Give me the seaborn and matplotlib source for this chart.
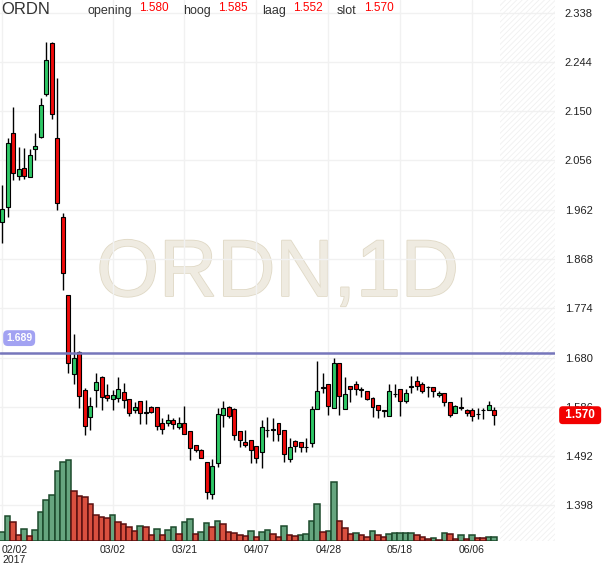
import matplotlib
matplotlib.use("Agg")
import matplotlib.pyplot as plt
import matplotlib.patheffects as pe
import numpy as np
import pandas as pd
import seaborn as sns

# daily OHLC for ORDN
opens = [1.938, 1.968, 2.108, 2.026, 2.041, 2.025, 2.077, 2.101, 2.182, 2.280,
         2.098, 1.948, 1.799, 1.648, 1.690, 1.618, 1.566, 1.618, 1.642, 1.608,
         1.600, 1.602, 1.615, 1.600, 1.579, 1.597, 1.576, 1.586, 1.585, 1.556,
         1.556, 1.560, 1.548, 1.555, 1.540, 1.513, 1.504, 1.480, 1.419, 1.478,
         1.570, 1.586, 1.581, 1.539, 1.518, 1.523, 1.511, 1.499, 1.542, 1.542,
         1.555, 1.542, 1.486, 1.521, 1.518, 1.509, 1.516, 1.581, 1.623, 1.630,
         1.583, 1.669, 1.581, 1.626, 1.630, 1.619, 1.616, 1.602, 1.589, 1.579,
         1.569, 1.610, 1.619, 1.598, 1.624, 1.635, 1.630, 1.624, 1.624, 1.609,
         1.613, 1.596, 1.574, 1.585, 1.580, 1.579, 1.573, 1.579, 1.580, 1.580]
highs = [2.009, 2.098, 2.157, 2.082, 2.079, 2.077, 2.108, 2.175, 2.281, 2.281,
         2.214, 1.955, 1.799, 1.725, 1.692, 1.621, 1.605, 1.651, 1.645, 1.629,
         1.618, 1.642, 1.631, 1.600, 1.596, 1.597, 1.599, 1.588, 1.585, 1.565,
         1.572, 1.564, 1.567, 1.588, 1.540, 1.514, 1.505, 1.480, 1.486, 1.583,
         1.598, 1.588, 1.583, 1.539, 1.541, 1.523, 1.511, 1.561, 1.566, 1.564,
         1.555, 1.542, 1.526, 1.523, 1.518, 1.527, 1.588, 1.674, 1.651, 1.630,
         1.679, 1.669, 1.642, 1.626, 1.636, 1.623, 1.616, 1.605, 1.589, 1.580,
         1.629, 1.629, 1.619, 1.619, 1.645, 1.645, 1.634, 1.625, 1.624, 1.616,
         1.613, 1.596, 1.589, 1.604, 1.582, 1.583, 1.583, 1.583, 1.597, 1.585]
lows = [1.898, 1.949, 2.019, 2.018, 2.021, 2.025, 2.057, 2.098, 2.178, 2.135,
        1.962, 1.809, 1.650, 1.630, 1.583, 1.532, 1.542, 1.585, 1.580, 1.598,
        1.579, 1.596, 1.583, 1.569, 1.574, 1.553, 1.553, 1.574, 1.542, 1.534,
        1.550, 1.543, 1.543, 1.535, 1.485, 1.500, 1.489, 1.411, 1.411, 1.472,
        1.548, 1.564, 1.523, 1.509, 1.509, 1.478, 1.478, 1.469, 1.529, 1.520,
        1.520, 1.480, 1.480, 1.499, 1.499, 1.499, 1.509, 1.581, 1.612, 1.570,
        1.583, 1.570, 1.581, 1.595, 1.609, 1.605, 1.599, 1.566, 1.564, 1.566,
        1.569, 1.605, 1.569, 1.594, 1.612, 1.618, 1.612, 1.604, 1.604, 1.604,
        1.588, 1.567, 1.574, 1.580, 1.569, 1.559, 1.562, 1.562, 1.579, 1.552]
closes = [1.963, 2.089, 2.032, 2.039, 2.027, 2.066, 2.084, 2.162, 2.248, 2.144,
          1.974, 1.841, 1.669, 1.679, 1.607, 1.549, 1.588, 1.633, 1.605, 1.602,
          1.608, 1.619, 1.599, 1.574, 1.585, 1.574, 1.574, 1.577, 1.550, 1.543,
          1.561, 1.553, 1.555, 1.535, 1.508, 1.504, 1.489, 1.424, 1.474, 1.572,
          1.583, 1.569, 1.532, 1.523, 1.514, 1.504, 1.488, 1.547, 1.541, 1.543,
          1.534, 1.496, 1.509, 1.512, 1.510, 1.510, 1.581, 1.617, 1.622, 1.588,
          1.669, 1.607, 1.610, 1.619, 1.619, 1.618, 1.600, 1.585, 1.580, 1.578,
          1.616, 1.611, 1.598, 1.613, 1.624, 1.626, 1.617, 1.623, 1.617, 1.613,
          1.595, 1.570, 1.588, 1.584, 1.575, 1.569, 1.572, 1.580, 1.589, 1.570]

# volume (thousands) and the colour the chart gives each volume bar
volumes = [26, 76, 58, 19, 37, 16, 34, 88, 124, 139,
           211, 238, 244, 151, 136, 133, 112, 79, 73, 70,
           79, 58, 52, 43, 31, 46, 43, 19, 37, 19,
           32, 43, 22, 58, 67, 22, 26, 55, 43, 61,
           52, 26, 23, 17, 14, 29, 11, 26, 32, 20,
           11, 44, 17, 14, 17, 20, 59, 110, 26, 29,
           176, 59, 38, 20, 23, 17, 11, 29, 17, 11,
           20, 23, 23, 23, 23, 17, 11, 5, 8, 2,
           23, 20, 5, 17, 5, 17, 8, 8, 11, 11]
vol_dir = list("GGRRGRGGGGGGGRRRRRRRGRRRRGRRGRGGRGGRGGRGRRRRRGRGGRRGRRGGGGRGGRRRGRRGRRGGGGGRRRGRGRRGRGRRGG")

price_ticks = [2.338, 2.244, 2.150, 2.056, 1.962, 1.868, 1.774, 1.680, 1.586, 1.492, 1.398]
date_ticks = [0, 20, 33, 46, 59, 72, 85]
date_labels = ["02/02\n2017", "03/02", "03/21", "04/07", "04/28", "05/18", "06/06"]

ref_level = 1.689
last = {"opening": 1.580, "hoog": 1.585, "laag": 1.552, "slot": 1.570}

df = pd.DataFrame({"open": opens, "high": highs, "low": lows, "close": closes,
                   "volume": volumes, "dir": vol_dir})
df["idx"] = np.arange(len(df))
df["up"] = df["close"] >= df["open"]

sns.set_theme(style="white")
plt.rcParams["font.family"] = ["Liberation Sans", "DejaVu Sans"]
plt.rcParams["hatch.linewidth"] = 0.6

fig = plt.figure(figsize=(6.1, 5.68), dpi=100)
ax = fig.add_axes([0, 27 / 568, 555 / 610, 541 / 568])
ax2 = ax.twinx()

# watermark
ax.text(0.5, 1 - 296 / 541, "ORDN,1D", transform=ax.transAxes, ha="center",
        va="baseline", fontsize=58, color="#efebe1", zorder=0,
        path_effects=[pe.withStroke(linewidth=1.2, foreground="#e0d9c6")])

# future area
ax.axvspan(90.05, 101, facecolor="none", edgecolor="#f0f0f0", hatch="//////",
           lw=0, zorder=0.6)

# candles
ax.vlines(df["idx"], df["low"], df["high"], color="black", lw=1, zorder=3)
body_lo = df[["open", "close"]].min(axis=1)
body_h = (df["close"] - df["open"]).abs().clip(lower=0.0012)
ax.bar(df["idx"], body_h, bottom=body_lo, width=0.72,
       color=np.where(df["up"], "#2ec866", "#f00a0a"),
       edgecolor="black", linewidth=0.8, zorder=4)

ax.axhline(ref_level, color="#7676bb", lw=1.8, zorder=5)
ax.text(0.011, 1.717, f"{ref_level:.3f}", transform=ax.get_yaxis_transform(),
        ha="left", va="center", color="white", fontsize=7.5, fontweight="bold",
        bbox=dict(boxstyle="round,pad=0.28,rounding_size=0.45", fc="#a2a2f2", ec="none"),
        zorder=6)
ax.text(1.0128, last["slot"], f" {last['slot']:.3f} ", transform=ax.get_yaxis_transform(),
        ha="left", va="center", color="white", fontsize=8.5, fontweight="bold",
        bbox=dict(boxstyle="round,pad=0.25,rounding_size=0.3", fc="#f20000", ec="none"),
        clip_on=False, zorder=6)

# volume on twin axis
for d, fc, ec in [("G", "#66a57f", "#1c4a2c"), ("R", "#d9503f", "#5a1010")]:
    sub = df[df["dir"] == d]
    sns.barplot(data=sub, x="idx", y="volume", native_scale=True, width=1,
                color=fc, edgecolor=ec, linewidth=1.1, saturation=1,
                errorbar=None, ax=ax2)
ax2.set_ylim(0, 1623)
ax2.set_yticks([])
ax2.set_xlabel("")
ax2.set_ylabel("")
for s in ax2.spines.values():
    s.set_visible(False)

ax.set_xlim(-0.36, 100)
ax.set_ylim(1.330, 2.362)
ax.yaxis.tick_right()
ax.set_yticks(price_ticks)
ax.set_yticklabels([f"{p:.3f}" for p in price_ticks])
ax.tick_params(axis="y", length=0, pad=7, labelsize=8, labelcolor="#222222")
ax.set_xticks(date_ticks)
ax.set_xticklabels(date_labels, linespacing=0.95)
ax.get_xticklabels()[0].set_ha("left")
ax.tick_params(axis="x", length=0, pad=3, labelsize=7.5, labelcolor="#222222")
ax.grid(True, color="#f1f1f1", lw=1)
for s in ax.spines.values():
    s.set_visible(False)

# header
W, H = 610, 568
fig.text(1 / W, 1 - 13.5 / H, "ORDN", fontsize=12, color="#333333", va="baseline")
xs = {"opening": (87, 139), "hoog": (183, 218), "laag": (262, 293), "slot": (337, 364)}
for k, (xl, xv) in xs.items():
    fig.text(xl / W, 1 - 14 / H, k, fontsize=9, color="#333333", va="baseline")
    fig.text(xv / W, 1 - 10.8 / H, f"{last[k]:.3f}", fontsize=8.5, color="#ff0000", va="baseline")

fig.savefig("out.png", dpi=100)
